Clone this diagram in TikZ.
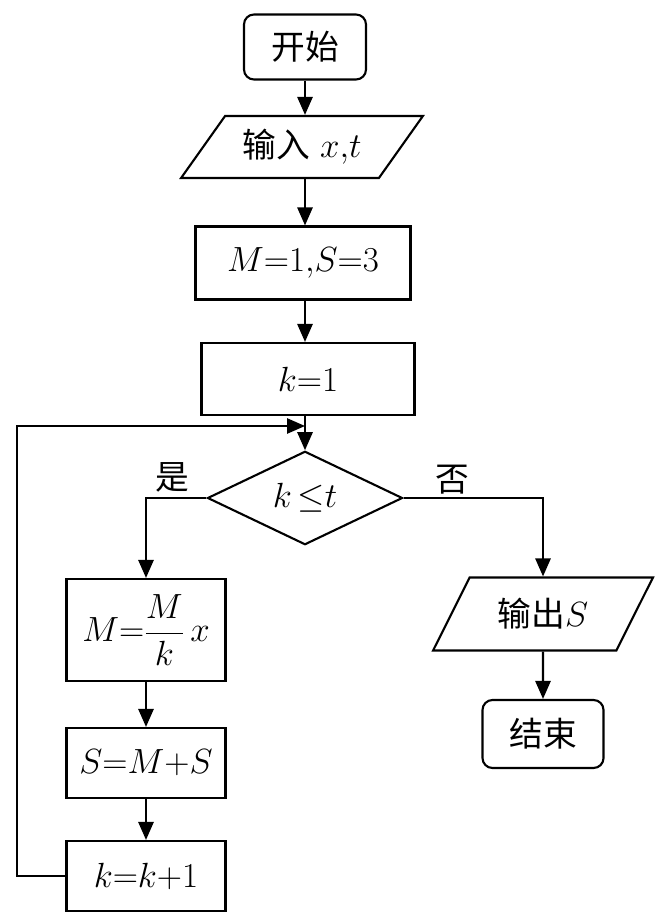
\documentclass[tikz,border=0pt]{standalone}
\usepackage{fontspec}
\newfontfamily\cjk{Noto Sans CJK SC}
\usetikzlibrary{shapes.geometric,arrows.meta}

\begin{document}
\begin{tikzpicture}[x=0.025cm,y=-0.025cm,
  every node/.style={font=\fontsize{24}{28}\selectfont},
  box/.style={draw,line width=1.5pt,inner sep=0pt},
  term/.style={box,rounded corners=0.25cm},
  io/.style={box,trapezium,trapezium stretches=true},
  flow/.style={line width=1.5pt,-{Triangle[length=0.45cm,width=0.38cm]}}]
  \useasboundingbox (0,0) rectangle (665,924);
  % main column
  \node[term,minimum width=3.05cm,minimum height=1.625cm] (start) at (305,47) {\cjk 开始};
  \node[io,trapezium left angle=46,trapezium right angle=134,
        minimum width=6.05cm,minimum height=1.55cm] (in) at (302,147) {{\cjk 输入} $x{,}t$};
  \node[box,minimum width=5.375cm,minimum height=1.825cm] (init) at (303,263) {$M{=}1{,}S{=}3$};
  \node[box,minimum width=5.325cm,minimum height=1.8cm] (k1) at (308,379) {$k{=}1$};
  \coordinate (join) at (305,426);
  \node[box,diamond,minimum width=4.875cm,minimum height=2.125cm] (cond) at (305,498) {$k\,{\le}t$};
  \node (yes) at (172,477) {\cjk 是};
  \node (no) at (452,480) {\cjk 否};
  % loop body
  \node[box,minimum width=3.975cm,minimum height=2.55cm] (mk) at (146,630) {$M{=}\displaystyle\frac{M}{k}\,x$};
  \node[box,minimum width=3.975cm,minimum height=1.75cm] (sms) at (146,763) {$S{=}M{+}S$};
  \node[box,minimum width=3.975cm,minimum height=1.75cm] (kk) at (146,876) {$k{=}k{+}1$};
  % output
  \node[io,trapezium left angle=54,trapezium right angle=126,
        minimum width=5.525cm,minimum height=1.825cm] (out) at (543,614) {{\cjk 输出}$S$};
  \node[term,minimum width=3.025cm,minimum height=1.7cm] (end) at (543,734) {\cjk 结束};

  \draw[flow] (start.south) -- (start.south |- in.north);
  \draw[flow] (in.south -| start.south) -- (start.south |- init.north);
  \draw[flow] (init.south -| start.south) -- (start.south |- k1.north);
  \draw[flow] (k1.south -| cond.north) -- (cond.north);
  \draw[flow] (kk.west) -- ++(-48.5,0) |- (join);
  \draw[flow] (cond.west) -| (mk.north);
  \draw[flow] (mk) -- (sms);
  \draw[flow] (sms) -- (kk);
  \draw[flow] (cond.east) -| (out.north);
  \draw[flow] (out) -- (end);
\end{tikzpicture}
\end{document}
